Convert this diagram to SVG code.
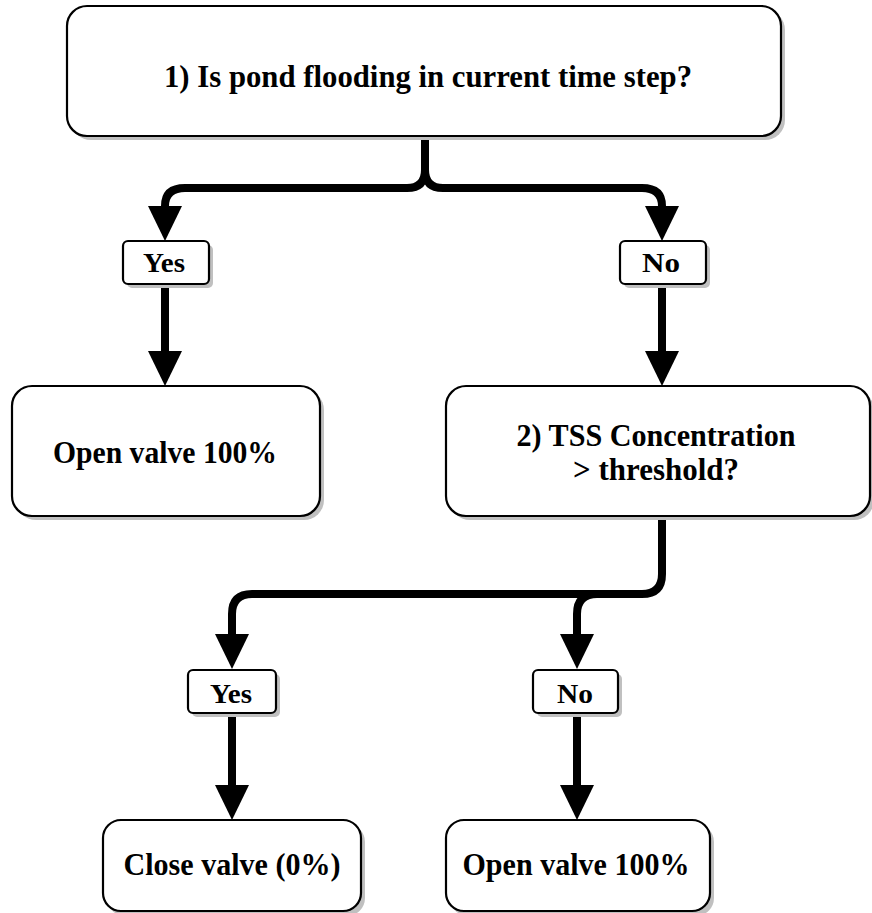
<svg xmlns="http://www.w3.org/2000/svg" width="872" height="913" viewBox="0 0 872 913">
<defs>
<marker id="ah" viewBox="0 -17 35 34" refX="0" refY="0" markerWidth="35" markerHeight="34" markerUnits="userSpaceOnUse" orient="auto">
<path d="M0,-17 L35,0 L0,17 Z" fill="#000"/>
</marker>
</defs>
<style>
.sh{fill:#c0c0c0;stroke:none}
.bx{fill:#fff;stroke:#000;stroke-width:2.2}
.t{font-family:"Liberation Serif","Times New Roman",serif;font-weight:bold;fill:#000;text-anchor:middle}
.big{font-size:31px}
.lbl{font-size:27px}
.c{fill:none;stroke:#000;stroke-width:8;stroke-linejoin:round}
</style>
<rect width="872" height="913" fill="#fff"/>
<g id="connectors">
<path class="c" d="M425,136 V170 Q425,188 407,188 H185 Q165,188 165,206" marker-end="url(#ah)"/>
<path class="c" d="M425,136 V170 Q425,188 443,188 H642 Q662,188 662,206" marker-end="url(#ah)"/>
<path class="c" d="M165,284 V351" marker-end="url(#ah)"/>
<path class="c" d="M662,284 V351" marker-end="url(#ah)"/>
<path class="c" d="M662,516 V574 Q662,594 642,594 H252 Q232,594 232,614 V634" marker-end="url(#ah)"/>
<path class="c" d="M597,594 Q577,594 577,614 V634" marker-end="url(#ah)"/>
<path class="c" d="M232,712 V785" marker-end="url(#ah)"/>
<path class="c" d="M577,712 V785" marker-end="url(#ah)"/>
</g>
<g id="n1">
<rect class="sh" x="71" y="10" width="714" height="130" rx="20"/>
<rect class="bx" x="67" y="6" width="714" height="130" rx="20"/>
<text class="t big" x="428" y="87" textLength="528" lengthAdjust="spacingAndGlyphs">1) Is pond flooding in current time step?</text>
</g>
<g id="yes1">
<rect class="sh" x="127" y="245" width="86" height="43" rx="5"/>
<rect class="bx" x="123" y="241" width="86" height="43" rx="5"/>
<text class="t lbl" x="164" y="272" textLength="42" lengthAdjust="spacingAndGlyphs">Yes</text>
</g>
<g id="no1">
<rect class="sh" x="624" y="245" width="86" height="43" rx="5"/>
<rect class="bx" x="620" y="241" width="86" height="43" rx="5"/>
<text class="t lbl" x="661" y="272" textLength="38" lengthAdjust="spacingAndGlyphs">No</text>
</g>
<g id="open1">
<rect class="sh" x="16" y="390" width="308" height="130" rx="20"/>
<rect class="bx" x="12" y="386" width="308" height="130" rx="20"/>
<text class="t big" x="165" y="463" textLength="224" lengthAdjust="spacingAndGlyphs">Open valve 100%</text>
</g>
<g id="tss">
<rect class="sh" x="450" y="390" width="424" height="130" rx="20"/>
<rect class="bx" x="446" y="386" width="424" height="130" rx="20"/>
<text class="t big" x="656" y="446" textLength="279" lengthAdjust="spacingAndGlyphs">2) TSS Concentration</text>
<text class="t big" x="656" y="480" textLength="166" lengthAdjust="spacingAndGlyphs">&gt; threshold?</text>
</g>
<g id="yes2">
<rect class="sh" x="192" y="674" width="88" height="43" rx="5"/>
<rect class="bx" x="188" y="670" width="88" height="43" rx="5"/>
<text class="t lbl" x="231" y="703" textLength="42" lengthAdjust="spacingAndGlyphs">Yes</text>
</g>
<g id="no2">
<rect class="sh" x="537" y="674" width="85" height="43" rx="5"/>
<rect class="bx" x="533" y="670" width="85" height="43" rx="5"/>
<text class="t lbl" x="575" y="703" textLength="36" lengthAdjust="spacingAndGlyphs">No</text>
</g>
<g id="close">
<rect class="sh" x="107" y="824" width="258" height="92" rx="18"/>
<rect class="bx" x="103" y="820" width="258" height="91" rx="18"/>
<text class="t big" x="232" y="875" textLength="217" lengthAdjust="spacingAndGlyphs">Close valve (0%)</text>
</g>
<g id="open2">
<rect class="sh" x="450" y="824" width="264" height="92" rx="18"/>
<rect class="bx" x="446" y="820" width="264" height="91" rx="18"/>
<text class="t big" x="576" y="875" textLength="227" lengthAdjust="spacingAndGlyphs">Open valve 100%</text>
</g>
</svg>
